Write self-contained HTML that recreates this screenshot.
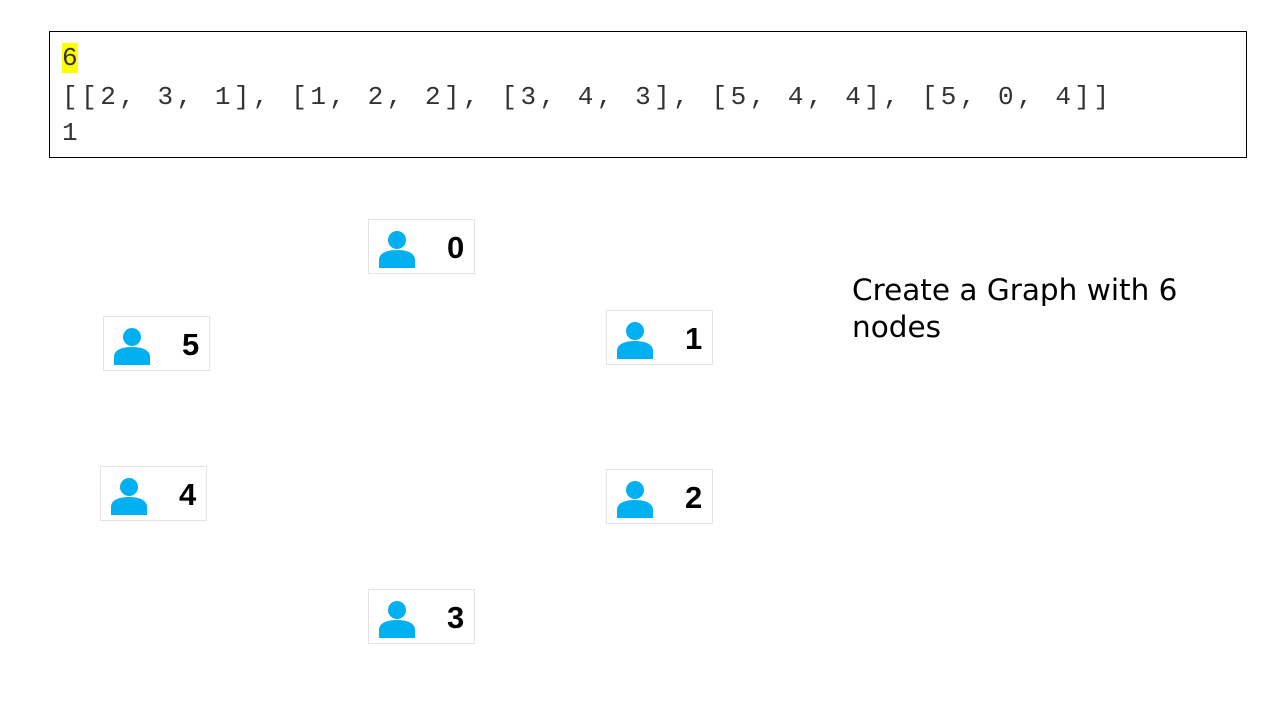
<!DOCTYPE html>
<html><head><meta charset="utf-8"><style>
body{margin:0;width:1280px;height:720px;background:#fff;position:relative;overflow:hidden;font-family:"Liberation Sans",sans-serif}
#input-box{position:absolute;left:49px;top:31px;width:1196px;height:125px;border:1px solid #000;}
.line{position:absolute;left:12px;font-family:"Liberation Mono",monospace;font-size:26px;letter-spacing:3.5px;color:#333;white-space:pre}
.hl{background:#ffff00;letter-spacing:0}
.node{position:absolute;width:105px;height:53px;border:1px solid #e4e4e4;background:#fff}
.node svg{position:absolute;left:8px;top:9px}
.node span{position:absolute;left:78px;top:10px;font-size:31px;font-weight:bold;color:#000}
#caption{position:absolute;left:852px;top:272px;font-family:"Comic Sans MS","DejaVu Sans",sans-serif;font-size:29.5px;line-height:37px;width:380px;color:#000}
</style></head><body>
<div id="input-box">
<div class="line" style="top:11px"><span class="hl">6</span></div>
<div class="line" style="top:50px">[[2, 3, 1], [1, 2, 2], [3, 4, 3], [5, 4, 4], [5, 0, 4]]</div>
<div class="line" style="top:86px">1</div>
</div>
<div id="caption">Create a Graph with 6 nodes</div>
<div id="graph"></div>
<script>
const nodeIds=[0,1,2,3,4,5];
const nodeX=[368,606,606,368,100,103];
const nodeY=[219,310,469,589,466,316];
const g=document.getElementById('graph');
nodeIds.forEach((id,i)=>{
  const d=document.createElement('div');
  d.className='node';
  
  
  d.style.left=nodeX[i]+'px';d.style.top=nodeY[i]+'px';
  d.innerHTML='<svg width="40" height="40" viewBox="0 0 40 40"><circle cx="20" cy="11" r="9" fill="#00b0f0"/><path d="M2 39 V31 C2 24 10 21 20 21 C30 21 38 24 38 31 V39 Z" fill="#00b0f0"/></svg><span>'+id+'</span>';
  g.appendChild(d);
});
</script>
</body></html>
